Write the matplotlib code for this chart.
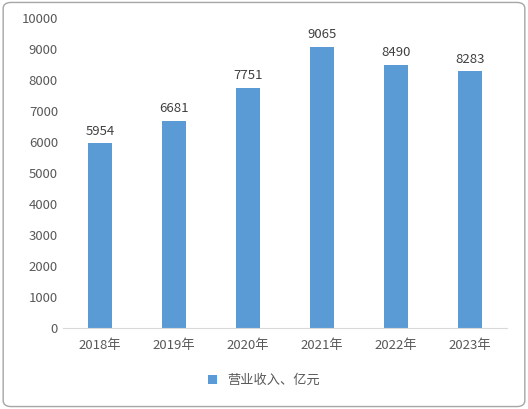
import matplotlib.pyplot as plt
from matplotlib.patches import FancyBboxPatch

plt.rcParams['font.family'] = ['Noto Sans CJK SC', 'DejaVu Sans']

years = ['2018年', '2019年', '2020年', '2021年', '2022年', '2023年']
revenue = [5954, 6681, 7751, 9065, 8490, 8283]

fig = plt.figure(figsize=(5.28, 4.09), dpi=100)
fig.patches.append(FancyBboxPatch((0.006, 0.006), 0.988, 0.988, boxstyle='round,pad=0,rounding_size=0.015',
                                  transform=fig.transFigure, fill=False, edgecolor='#a6a6a6', linewidth=1))
ax = fig.add_axes([0.119, 0.198, 0.841, 0.758])

bars = ax.bar(years, revenue, width=0.33, color='#5b9bd5', label='营业收入、亿元')
for b, v in zip(bars, revenue):
    ax.text(b.get_x() + b.get_width() / 2, v + 180, str(v), ha='center', va='bottom',
            fontsize=9.5, color='#404040')

ax.set_ylim(0, 10000)
ax.set_yticks(range(0, 10001, 1000))
ax.set_xlim(-0.5, 5.5)
for s in ['top', 'right', 'left']:
    ax.spines[s].set_visible(False)
ax.spines['bottom'].set_color('#d9d9d9')
ax.tick_params(axis='both', length=0, labelsize=9.5, labelcolor='#595959')
ax.tick_params(axis='x', pad=8)

fig.legend(loc='lower center', bbox_to_anchor=(0.5, 0.025), frameon=False, fontsize=9.5,
           handlelength=0.7, handleheight=0.7, labelcolor='#595959')

fig.savefig('out.png', dpi=100)
